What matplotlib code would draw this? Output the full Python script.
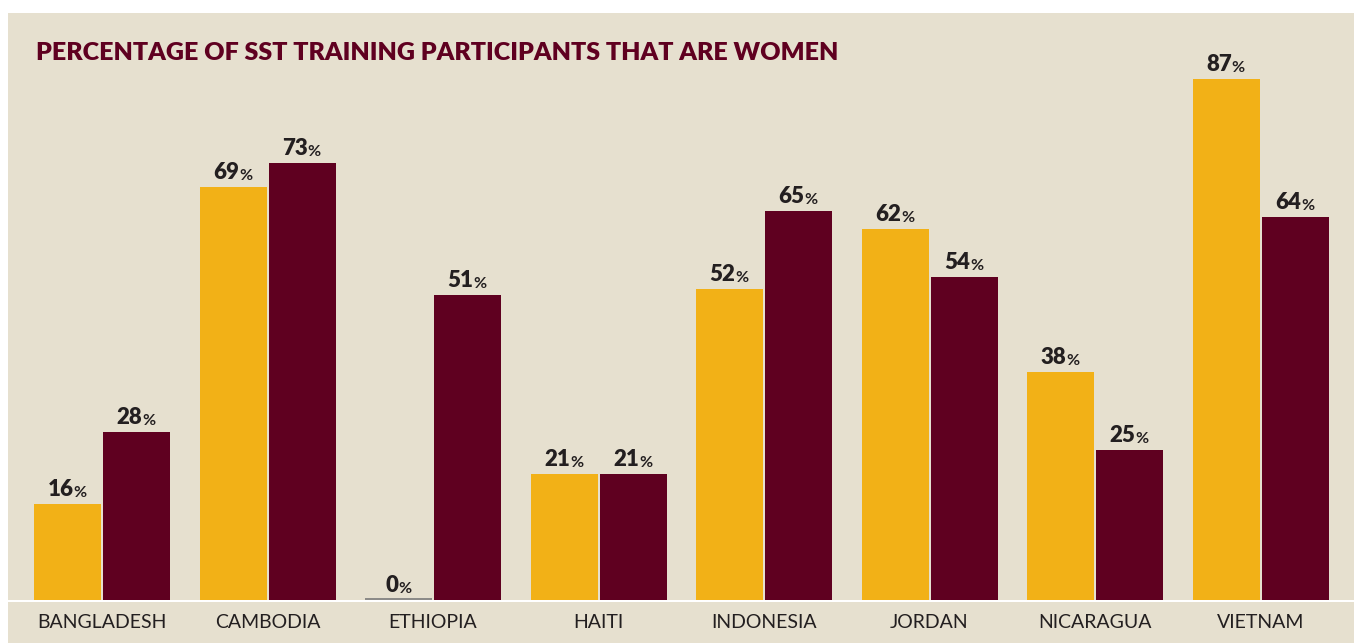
import numpy as np
import matplotlib
matplotlib.use("Agg")
import matplotlib.pyplot as plt
from matplotlib.patches import Rectangle
import matplotlib.transforms as mtransforms

# data
countries = ["BANGLADESH", "CAMBODIA", "ETHIOPIA", "HAITI",
             "INDONESIA", "JORDAN", "NICARAGUA", "VIETNAM"]
pct_yellow = [16, 69, 0, 21, 52, 62, 38, 87]
pct_maroon = [28, 73, 51, 21, 65, 54, 25, 64]

YELLOW = "#F2B117"
MAROON = "#5F0020"
BEIGE = "#E6E0CF"
DARK = "#231F20"

plt.rcParams["font.family"] = ["Lato", "DejaVu Sans"]

W, H = 1359, 643
fig = plt.figure(figsize=(W / 100, H / 100), dpi=100)
fig.patch.set_facecolor("white")

# beige panel + white baseline strip (pixel coords)
def px(x0, y0, w, h, **kw):
    fig.patches.append(Rectangle((x0 / W, 1 - (y0 + h) / H), w / W, h / H,
                                 transform=fig.transFigure, figure=fig, **kw))

px(8, 13, 1346, 630, facecolor=BEIGE, edgecolor="none", zorder=-1)

ax = fig.add_axes([8 / W, (H - 600) / H, 1346 / W, 587 / H])
ax.set_zorder(1)
ax.set_facecolor("none")
ax.set_xlim((8 - 102) / 165.5, (1354 - 102) / 165.5)
ax.set_ylim(0, 587 / 5.99)
for s in ax.spines.values():
    s.set_visible(False)
ax.set_xticks([])
ax.set_yticks([])

x = np.arange(len(countries))
w = 67 / 165.5
off = 34.5 / 165.5

b1 = ax.bar(x - off, pct_yellow, w, color=YELLOW, zorder=2)
b2 = ax.bar(x + off, pct_maroon, w, color=MAROON, zorder=2)

for i, v in enumerate(pct_yellow):
    if v == 0:
        ax.hlines(0.15, x[i] - off - w / 2, x[i] - off + w / 2,
                  color="#7a7a7a", lw=1.2, zorder=3)

def label(xc, v):
    t = ax.annotate(str(v), xy=(xc, v), xytext=(-7, 8), textcoords="offset pixels",
                    ha="center", va="baseline", fontsize=16, fontweight="heavy",
                    color=DARK, zorder=4)
    ax.annotate("%", xy=(1, 0), xycoords=t, xytext=(0, 0), textcoords="offset pixels",
                ha="left", va="bottom", fontsize=11.5, fontweight="bold",
                color=DARK, zorder=4)

for i in range(len(countries)):
    label(x[i] - off, pct_yellow[i])
    label(x[i] + off, pct_maroon[i])

trans = mtransforms.blended_transform_factory(ax.transData, ax.transAxes)
for i, c in enumerate(countries):
    ax.text(x[i], -28 / 587, c, transform=trans, ha="center", va="baseline",
            fontsize=14, color=DARK)

px(8, 600, 1346, 2, facecolor="white", edgecolor="none", zorder=5)

fig.text(36 / W, 1 - 60 / H, "PERCENTAGE OF SST TRAINING PARTICIPANTS THAT ARE WOMEN",
         ha="left", va="baseline", fontsize=18, fontweight="heavy", color=MAROON)

fig.savefig("out.png", dpi=100)
